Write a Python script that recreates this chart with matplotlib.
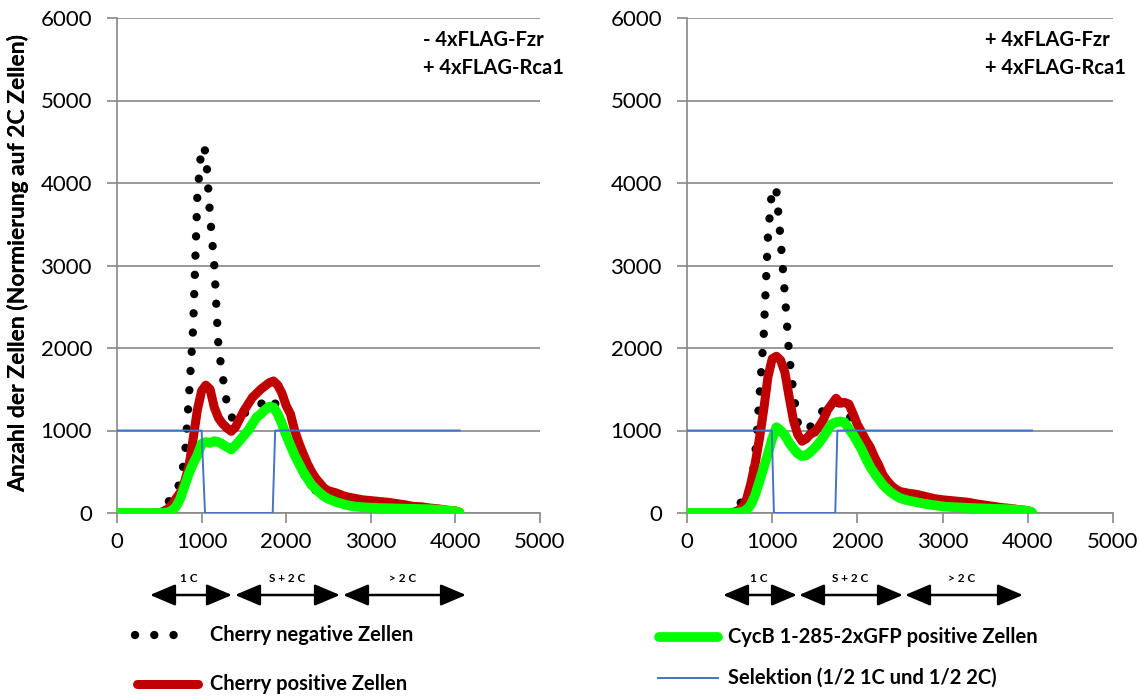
import matplotlib
matplotlib.use("Agg")
import matplotlib.pyplot as plt
from matplotlib.lines import Line2D
from matplotlib.patches import FancyArrowPatch

plt.rcParams['font.family'] = ['Lato', 'DejaVu Sans']

# Fluorescence channel (DNA content), shared by all histogram series
channel = [0, 500, 550, 600, 650, 700, 750, 800, 850, 900, 950, 1000, 1050, 1100,
           1150, 1200, 1250, 1300, 1350, 1400, 1450, 1500, 1550, 1600, 1650, 1700,
           1750, 1800, 1850, 1900, 1950, 2000, 2050, 2100, 2150, 2200, 2250, 2300,
           2350, 2400, 2450, 2500, 2600, 2700, 2800, 2900, 3000, 3100, 3200, 3300,
           3400, 3500, 3600, 3700, 3800, 3900, 4000, 4050]

# Panel 1: - 4xFLAG-Fzr / + 4xFLAG-Rca1
neg_1 = [0, 0, 90, 130, 180, 220, 420, 650, 1400, 2250, 3850, 4450, 4380, 3600,
         3000, 2000, 1650, 1320, 1170, 1100, 1150, 1200, 1250, 1280, 1290, 1320,
         1360, 1400, 1380, 1250, 1100, 950, 830, 700, 600, 480, 400, 330,
         270, 230, 200, 170, 140, 110, 95, 80, 70, 60, 55, 45,
         40, 35, 30, 25, 20, 15, 10, 0]
pos_1 = [0, 0, 20, 50, 100, 180, 250, 380, 560, 900, 1250, 1480, 1550, 1500,
         1280, 1150, 1080, 1030, 990, 1040, 1140, 1240, 1320, 1400, 1450, 1500,
         1540, 1580, 1600, 1550, 1450, 1300, 1200, 1000, 850, 720, 600, 500,
         420, 360, 300, 270, 240, 200, 180, 160, 150, 140, 130, 115,
         100, 80, 75, 60, 50, 35, 25, 10]
gfp_1 = [0, 0, 0, 10, 30, 80, 180, 330, 480, 600, 700, 840, 860, 850,
         870, 860, 830, 800, 770, 820, 880, 940, 1000, 1080, 1160, 1200,
         1250, 1290, 1280, 1200, 1080, 940, 820, 700, 600, 500, 420, 340,
         290, 240, 200, 170, 130, 100, 80, 70, 65, 60, 58, 55,
         52, 50, 48, 45, 40, 30, 20, 5]
sel_x_1 = [0, 1000, 1040, 1840, 1870, 4050]
sel_y_1 = [1000, 1000, 0, 0, 1000, 1000]

# Panel 2: + 4xFLAG-Fzr / + 4xFLAG-Rca1
neg_2 = [0, 0, 50, 100, 140, 180, 300, 700, 1400, 2150, 3350, 3950, 3900, 3300,
         2630, 1900, 1450, 1100, 1000, 1000, 1050, 1100, 1180, 1250, 1300, 1330,
         1340, 1320, 1290, 1200, 1080, 950, 820, 700, 600, 500, 420, 360,
         300, 260, 230, 210, 180, 140, 120, 100, 90, 80, 70, 60,
         50, 45, 40, 35, 25, 20, 10, 0]
pos_2 = [0, 0, 10, 30, 70, 170, 360, 600, 900, 1250, 1650, 1870, 1900, 1850,
         1700, 1400, 1120, 950, 870, 900, 960, 980, 1050, 1130, 1250, 1320,
         1390, 1330, 1340, 1320, 1200, 1070, 980, 880, 800, 680, 580, 460,
         390, 330, 290, 260, 240, 225, 200, 175, 160, 150, 140, 130,
         110, 95, 80, 65, 55, 40, 30, 10]
gfp_2 = [0, 0, 0, 5, 15, 40, 100, 220, 380, 550, 720, 900, 1040, 1000,
         940, 850, 780, 720, 690, 700, 740, 790, 850, 920, 1000, 1080,
         1100, 1110, 1100, 1020, 950, 860, 770, 660, 560, 480, 410, 340,
         290, 245, 210, 180, 150, 130, 110, 95, 80, 72, 68, 62,
         58, 55, 50, 48, 45, 35, 25, 10]
sel_x_2 = [0, 995, 1020, 1740, 1765, 4050]
sel_y_2 = [1000, 1000, 0, 0, 1000, 1000]

panel_titles = [["- 4xFLAG-Fzr", "+ 4xFLAG-Rca1"], ["+ 4xFLAG-Fzr", "+ 4xFLAG-Rca1"]]
phase_labels = ["1 C", "S + 2 C", "> 2 C"]
series_names = ["Cherry negative Zellen", "Cherry positive Zellen",
                "CycB 1-285-2xGFP positive Zellen", "Selektion (1/2 1C und 1/2 2C)"]

C_NEG = "black"
C_POS = "#C00000"
C_GFP = "#00FF00"
C_SEL = "#4472C4"
AXIS_GREY = "#888888"

W, H = 1139, 697
fig = plt.figure(figsize=(W / 100, H / 100), dpi=100)


def fx(px):
    return px / W


def fy(py):
    return 1 - py / H


dot_style = (0, (0.01, 2.3))

panels = [
    (117, 540, neg_1, pos_1, gfp_1, sel_x_1, sel_y_1, panel_titles[0], 423),
    (687, 1113, neg_2, pos_2, gfp_2, sel_x_2, sel_y_2, panel_titles[1], 985),
]

for left, right, neg, pos, gfp, sx, sy, title, tx in panels:
    ax = fig.add_axes([fx(left), fy(513), fx(right - left), fy(18) - fy(513)])
    ax.plot(channel, neg, color=C_NEG, lw=6, linestyle=dot_style,
            dash_capstyle='round', zorder=2)
    ax.plot(channel, pos, color=C_POS, lw=6.5, solid_joinstyle='round',
            solid_capstyle='round', zorder=3)
    ax.plot(channel, gfp, color=C_GFP, lw=7, solid_joinstyle='round',
            solid_capstyle='round', zorder=4)
    ax.plot(sx, sy, color=C_SEL, lw=1.4, zorder=5)

    ax.set_xlim(0, 5000)
    ax.set_ylim(0, 6000)
    ax.set_xticks(range(0, 5001, 1000))
    ax.set_yticks(range(0, 6001, 1000))
    ax.yaxis.grid(True, color=AXIS_GREY, lw=1.2)
    ax.set_axisbelow(True)
    for s in ("top", "right"):
        ax.spines[s].set_visible(False)
    for s in ("left", "bottom"):
        ax.spines[s].set_color(AXIS_GREY)
        ax.spines[s].set_linewidth(1.2)
    ax.tick_params(axis='both', colors=AXIS_GREY, labelcolor='black',
                   labelsize=16, length=7, width=1.2, direction='out')
    ax.tick_params(axis='y', pad=11)
    ax.tick_params(axis='x', pad=7)
    ax.set_ylabel("Anzahl der Zellen (Normierung auf 2C Zellen)",
                  fontsize=16.5, fontweight='bold')
    ax.yaxis.set_label_coords(-(left - 29) / (right - left), 0.505)

    fig.text(fx(tx), fy(40), title[0], fontsize=14.5, fontweight='bold',
             ha='left', va='center')
    fig.text(fx(tx), fy(68), title[1], fontsize=14.5, fontweight='bold',
             ha='left', va='center')

# Cell-cycle phase arrows under each panel
arrow_sets = [
    [(150, 232, 189), (235, 340, 287), (343, 466, 403)],
    [(723, 797, 759), (799, 903, 850), (905, 1023, 962)],
]
for arrows in arrow_sets:
    for (x0, x1, xc), lab in zip(arrows, phase_labels):
        arr = FancyArrowPatch((fx(x0), fy(595)), (fx(x1), fy(595)),
                              transform=fig.transFigure,
                              arrowstyle='<|-|>,head_length=1.3,head_width=0.55',
                              mutation_scale=12, color='black', lw=1.8,
                              shrinkA=0, shrinkB=0)
        fig.add_artist(arr)
        fig.text(fx(xc), fy(579), lab, fontsize=8.5, fontweight='bold',
                 ha='center', va='center')

# Legend drawn below the panels
fig.add_artist(Line2D([fx(135), fx(192)], [fy(635), fy(635)], color=C_NEG, lw=6,
                      linestyle=(0, (0.01, 2.3)), dash_capstyle='round'))
fig.add_artist(Line2D([fx(137), fx(198)], [fy(684), fy(684)], color=C_POS, lw=6.5,
                      solid_capstyle='round'))
fig.add_artist(Line2D([fx(659), fx(718)], [fy(637), fy(637)], color=C_GFP, lw=7,
                      solid_capstyle='round'))
fig.add_artist(Line2D([fx(658), fx(718)], [fy(678), fy(678)], color=C_SEL, lw=1.4))
leg_pos = [(210, 635), (210, 684), (728, 637), (728, 678)]
for name, (lx, ly) in zip(series_names, leg_pos):
    fig.text(fx(lx), fy(ly), name, fontsize=14.5, fontweight='bold',
             ha='left', va='center')

fig.savefig("out.png", dpi=100)
